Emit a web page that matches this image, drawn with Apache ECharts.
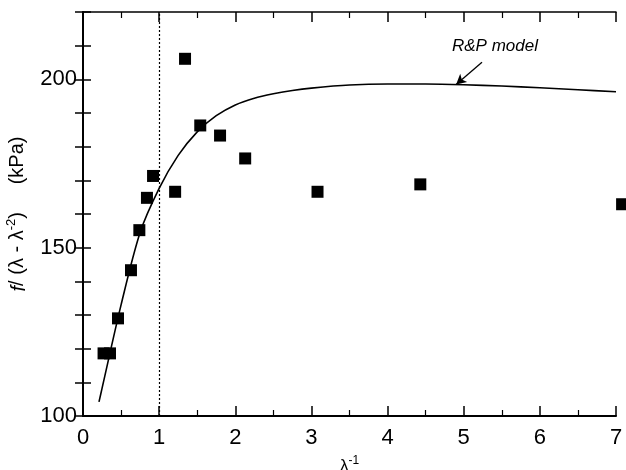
<!DOCTYPE html>
<html>
<head>
<meta charset="utf-8">
<script src="https://cdn.jsdelivr.net/npm/echarts@6/dist/echarts.min.js"></script>
<style>
  html, body { margin: 0; padding: 0; background: #fff; }
  #chart { width: 626px; height: 470px; }
</style>
</head>
<body>
<div id="chart"></div>
<script>
// measured points (inverse stretch vs reduced force)
const measured = [
  [0.27, 118.6], [0.355, 118.6], [0.46, 129.0], [0.63, 143.3], [0.74, 155.2],
  [0.84, 164.8], [0.92, 171.3], [1.21, 166.6], [1.34, 206.1], [1.54, 186.3],
  [1.80, 183.3], [2.13, 176.5], [3.08, 166.6], [4.43, 168.8], [7.08, 162.9]
]

// R&P model curve
const modelX = [0.21, 0.25, 0.5, 0.75, 1.0, 1.25, 1.5, 1.75, 2.0, 2.25, 2.5, 2.75, 3.0, 3.5, 4.0, 4.5, 5.0, 5.5, 6.0, 6.5, 7.0]
const modelY = [104.2, 108.2, 133.0, 154.5, 167.6, 177.4, 184.4, 189.2, 192.4, 194.4, 195.7, 196.7, 197.4, 198.3, 198.6, 198.6, 198.4, 198.0, 197.5, 196.9, 196.3]

const yLabels = [100, 150, 200]
const refLine = 1
const arrowFrom = [5.24, 205.1]
const arrowTo = [4.9, 198.5]

const font = 'Liberation Sans, Arial, sans-serif'
const black = '#000'

const chart = echarts.init(document.getElementById('chart'))

chart.setOption({
  animation: false,
  grid: { left: 83, right: 10, top: 12, bottom: 54, outerBoundsMode: 'none' },
  xAxis: [
    {
      type: 'value',
      min: 0,
      max: 7,
      interval: 1,
      name: '{l|λ}{s|-1}',
      nameLocation: 'middle',
      nameGap: 39,
      nameTextStyle: {
        fontFamily: font,
        rich: {
          l: { fontSize: 17, fontFamily: font, color: black, lineHeight: 20, verticalAlign: 'bottom' },
          s: { fontSize: 12, fontFamily: font, color: black, lineHeight: 20, verticalAlign: 'top' }
        }
      },
      axisLine: { lineStyle: { color: black, width: 2 } },
      axisTick: { inside: true, length: 10, lineStyle: { color: black, width: 1.5 } },
      minorTick: { show: true, splitNumber: 2, length: 6, lineStyle: { color: black, width: 1.2 } },
      axisLabel: { fontFamily: font, fontSize: 22, color: black, margin: 11 },
      splitLine: { show: false }
    },
    {
      type: 'value',
      position: 'top',
      min: 0,
      max: 7,
      interval: 1,
      axisLine: { show: true, lineStyle: { color: black, width: 1.5 } },
      axisTick: { inside: true, length: 10, lineStyle: { color: black, width: 1.5 } },
      minorTick: { show: true, splitNumber: 2, length: 6, lineStyle: { color: black, width: 1.2 } },
      axisLabel: { show: false },
      splitLine: { show: false }
    }
  ],
  yAxis: [
    {
      type: 'value',
      min: 100,
      max: 220,
      interval: 10,
      name: '{i|f}/ (λ - λ{s|-2})     (kPa)',
      nameLocation: 'middle',
      nameGap: 46,
      nameRotate: 90,
      nameTextStyle: {
        fontFamily: font,
        fontSize: 20,
        color: black,
        rich: {
          i: { fontSize: 20, fontFamily: font, fontStyle: 'italic', color: black, lineHeight: 24, verticalAlign: 'bottom' },
          s: { fontSize: 13, fontFamily: font, color: black, lineHeight: 24, verticalAlign: 'top' }
        }
      },
      axisLine: { lineStyle: { color: black, width: 2 } },
      axisTick: { inside: true, length: 8, lineStyle: { color: black, width: 1.5 } },
      axisLabel: {
        fontFamily: font,
        fontSize: 22,
        color: black,
        margin: 6,
        formatter: v => (yLabels.indexOf(v) >= 0 ? String(v) : '')
      },
      splitLine: { show: false }
    },
    {
      type: 'value',
      position: 'right',
      min: 100,
      max: 220,
      interval: 10,
      axisLine: { show: true, lineStyle: { color: black, width: 1.5 } },
      axisTick: { inside: true, length: 8, lineStyle: { color: black, width: 1.5 } },
      axisLabel: { show: false },
      splitLine: { show: false }
    }
  ],
  series: [
    {
      name: 'R&P model',
      type: 'line',
      data: modelX.map((x, i) => [x, modelY[i]]),
      smooth: 0.3,
      symbol: 'none',
      lineStyle: { color: black, width: 1.6 },
      z: 3,
      markLine: {
        silent: true,
        symbol: ['none', 'arrow'],
        symbolSize: [8, 10],
        label: { show: false },
        lineStyle: { color: black, width: 1.3, type: 'solid' },
        data: [[{ coord: arrowFrom }, { coord: arrowTo }]]
      }
    },
    {
      name: 'data',
      type: 'scatter',
      data: measured,
      symbol: 'rect',
      symbolSize: 12,
      clip: false,
      itemStyle: { color: black, opacity: 1 },
      z: 4,
      markLine: {
        silent: true,
        symbol: 'none',
        label: { show: false },
        lineStyle: { color: black, width: 1.2, type: [2, 2] },
        data: [{ xAxis: refLine }]
      }
    }
  ],
  graphic: [
    {
      type: 'text',
      left: 452,
      top: 38,
      style: {
        text: 'R&P model',
        font: 'italic 17px Liberation Sans, Arial, sans-serif',
        fill: black
      }
    }
  ]
})
</script>
</body>
</html>
